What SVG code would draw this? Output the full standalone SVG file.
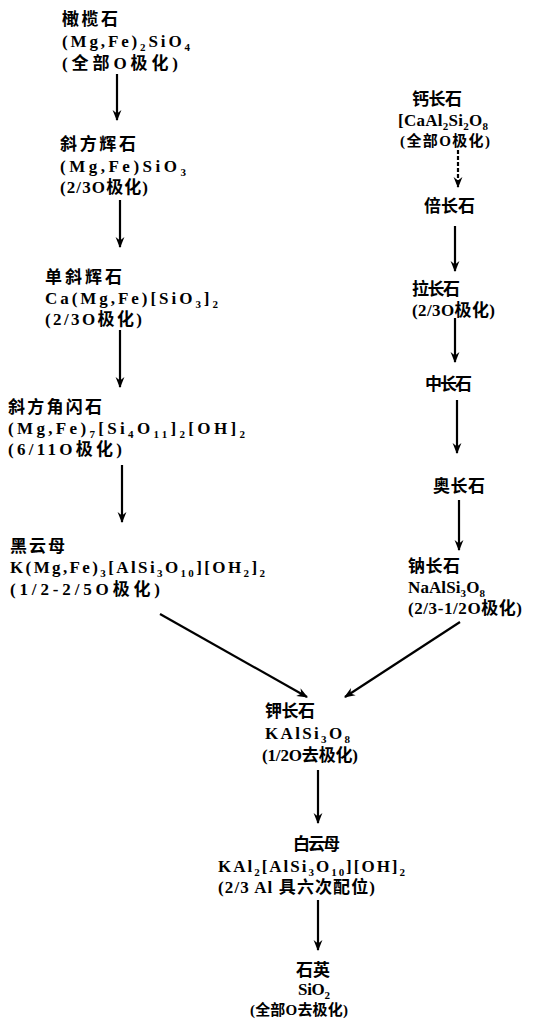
<svg xmlns="http://www.w3.org/2000/svg" width="550" height="1022" viewBox="0 0 550 1022">
<defs>
<marker id="ah" viewBox="0 0 10 10" refX="9" refY="5" markerWidth="5" markerHeight="5" orient="auto" markerUnits="strokeWidth">
<path d="M0,1 L10,5 L0,9 L3,5 Z" fill="#000"/>
</marker>
</defs>
<style>
text{font-family:"Liberation Serif","Noto Sans CJK SC",serif;font-size:17px;fill:#000;font-weight:bold}
.s{font-size:11px}
.m{font-size:15px}
.c line{stroke:#000;stroke-width:2.2;marker-end:url(#ah)}
</style>
<rect width="550" height="1022" fill="#fff"/>
<g class="c" id="connectors">
<line x1="117" y1="74" x2="117" y2="120"/>
<line x1="120" y1="200" x2="120" y2="247"/>
<line x1="120" y1="330" x2="120" y2="387"/>
<line x1="122" y1="465" x2="122" y2="522"/>
<line x1="458" y1="150" x2="458" y2="187" stroke-dasharray="4,2"/>
<line x1="455" y1="226" x2="455" y2="271"/>
<line x1="455" y1="318" x2="455" y2="362"/>
<line x1="457" y1="400" x2="457" y2="453"/>
<line x1="459" y1="500" x2="459" y2="550"/>
<line x1="160" y1="614" x2="307" y2="697"/>
<line x1="460" y1="622" x2="345" y2="697"/>
<line x1="318" y1="770" x2="318" y2="823"/>
<line x1="318" y1="900" x2="318" y2="950"/>
</g>
<g id="n_olivine">
<text x="62" y="25" textLength="56">橄榄石</text>
<text x="62" y="47" textLength="128">(Mg,Fe)<tspan class="s" dy="4">2</tspan><tspan dy="-4">SiO</tspan><tspan class="s" dy="4">4</tspan></text>
<text x="62" y="69" textLength="116">(全部O极化)</text>
</g>
<g id="n_opx">
<text x="60" y="150" textLength="76">斜方辉石</text>
<text x="60" y="172" textLength="126">(Mg,Fe)SiO<tspan class="s" dy="4">3</tspan></text>
<text x="60" y="193" textLength="88">(2/3O极化)</text>
</g>
<g id="n_cpx">
<text x="45" y="283" textLength="77">单斜辉石</text>
<text x="45" y="304" textLength="173">Ca(Mg,Fe)[SiO<tspan class="s" dy="4">3</tspan><tspan dy="-4">]</tspan><tspan class="s" dy="4">2</tspan></text>
<text x="45" y="325" textLength="97">(2/3O极化)</text>
</g>
<g id="n_amph">
<text x="8" y="413" textLength="94">斜方角闪石</text>
<text x="8" y="434" textLength="237">(Mg,Fe)<tspan class="s" dy="4">7</tspan><tspan dy="-4">[Si</tspan><tspan class="s" dy="4">4</tspan><tspan dy="-4">O</tspan><tspan class="s" dy="4">11</tspan><tspan dy="-4">]</tspan><tspan class="s" dy="4">2</tspan><tspan dy="-4">[OH]</tspan><tspan class="s" dy="4">2</tspan></text>
<text x="8" y="455" textLength="114">(6/11O极化)</text>
</g>
<g id="n_biotite">
<text x="10" y="552" textLength="55">黑云母</text>
<text x="10" y="573" textLength="255">K(Mg,Fe)<tspan class="s" dy="4">3</tspan><tspan dy="-4">[AlSi</tspan><tspan class="s" dy="4">3</tspan><tspan dy="-4">O</tspan><tspan class="s" dy="4">10</tspan><tspan dy="-4">][OH</tspan><tspan class="s" dy="4">2</tspan><tspan dy="-4">]</tspan><tspan class="s" dy="4">2</tspan></text>
<text x="10" y="595" textLength="150">(1/2-2/5O极化)</text>
</g>
<g id="n_anorthite">
<text x="412" y="105" textLength="50">钙长石</text>
<text x="398" y="126" textLength="90">[CaAl<tspan class="s" dy="4">2</tspan><tspan dy="-4">Si</tspan><tspan class="s" dy="4">2</tspan><tspan dy="-4">O</tspan><tspan class="s" dy="4">8</tspan></text>
<text class="m" x="400" y="146" textLength="90">(全部O极化)</text>
</g>
<g id="n_bytownite">
<text x="424" y="212" textLength="51">倍长石</text>
</g>
<g id="n_labradorite">
<text x="412" y="295" textLength="48">拉长石</text>
<text x="412" y="316" textLength="83">(2/3O极化)</text>
</g>
<g id="n_andesine">
<text x="425" y="390" textLength="47">中长石</text>
</g>
<g id="n_oligoclase">
<text x="433" y="492" textLength="52">奥长石</text>
</g>
<g id="n_albite">
<text x="408" y="572" textLength="52">钠长石</text>
<text x="408" y="593" textLength="77">NaAlSi<tspan class="s" dy="4">3</tspan><tspan dy="-4">O</tspan><tspan class="s" dy="4">8</tspan></text>
<text x="408" y="614" textLength="114">(2/3-1/2O极化)</text>
</g>
<g id="n_orthoclase">
<text x="265" y="717" textLength="50">钾长石</text>
<text x="265" y="739" textLength="85">KAlSi<tspan class="s" dy="4">3</tspan><tspan dy="-4">O</tspan><tspan class="s" dy="4">8</tspan></text>
<text x="262" y="761" textLength="96">(1/2O去极化)</text>
</g>
<g id="n_muscovite">
<text x="293" y="850" textLength="47">白云母</text>
<text x="218" y="872" textLength="187">KAl<tspan class="s" dy="4">2</tspan><tspan dy="-4">[AlSi</tspan><tspan class="s" dy="4">3</tspan><tspan dy="-4">O</tspan><tspan class="s" dy="4">10</tspan><tspan dy="-4">][OH]</tspan><tspan class="s" dy="4">2</tspan></text>
<text x="218" y="893" textLength="157">(2/3 Al 具六次配位)</text>
</g>
<g id="n_quartz">
<text x="296" y="976" textLength="34">石英</text>
<text x="298" y="995" textLength="32">SiO<tspan class="s" dy="4">2</tspan></text>
<text class="m" x="250" y="1015" textLength="98">(全部O去极化)</text>
</g>
</svg>
